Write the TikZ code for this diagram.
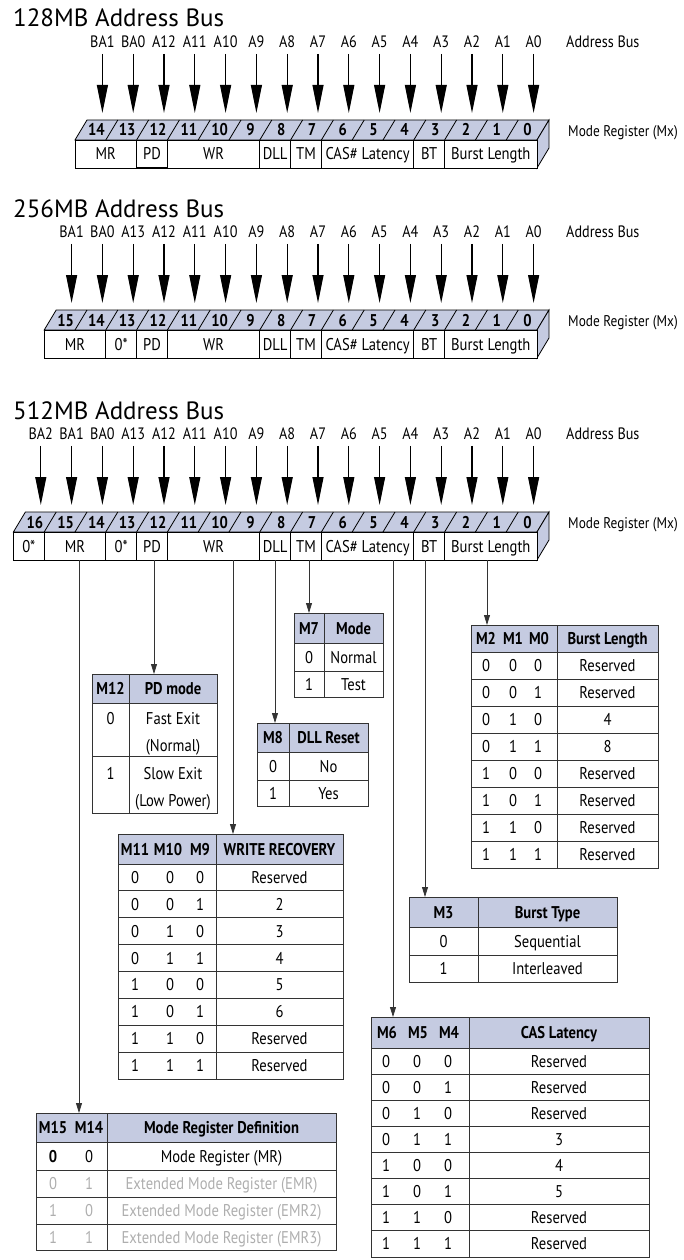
\documentclass[tikz,border=0pt]{standalone}
\usepackage{fontspec}
\setmainfont{PT Sans}[FakeStretch=0.86]
\newfontfamily\titlefont{PT Sans}
\usetikzlibrary{arrows.meta}
\definecolor{hdr}{HTML}{C5CBE1}
\definecolor{tln}{HTML}{333333}
\definecolor{gry}{HTML}{AEAEAE}
\newcommand\fsz[1]{\fontsize{#1}{#1}\selectfont}
\def\W{30.8}
\def\DX{12}
\def\DY{20}
\def\FH{28}
\def\RR{537}
\tikzset{
  ttl/.style={font=\titlefont\fsz{25}, inner sep=0pt, anchor=west, text height=18pt, text depth=0pt},
  lab/.style={font=\fsz{16.5}, inner sep=0pt, text height=11.5pt, text depth=0pt},
  mxlab/.style={font=\fsz{15.5}, inner sep=0pt, anchor=west, text height=11pt, text depth=0pt},
  bigarr/.style={line width=1.1pt, shorten <=6pt, -{Triangle[length=28pt,width=11pt]}},
  facefill/.style={fill=hdr, draw=black, line width=0.8pt},
  fld/.style={font=\fsz{17}, inner sep=0pt, text height=12pt, text depth=0pt},
  num/.style={font=\fsz{17}\bfseries, inner sep=0pt, text height=12pt, text depth=0pt},
  tline/.style={draw=tln, line width=0.9pt},
  tarr/.style={draw=tln, line width=0.8pt, -{Triangle[length=10pt,width=6pt]}},
  tt/.style={font=\fsz{17}, inner sep=0pt, text height=12pt, text depth=0pt},
  th/.style={font=\fsz{17}\bfseries, inner sep=0pt, text height=12pt, text depth=0pt},
  tg/.style={tt, text=gry},
}
\newcommand\regbar[4]{%
  \pgfmathsetmacro\BL{\RR-#2*\W}%
  \pgfmathsetmacro\YA{#1+\DY}%
  \pgfmathsetmacro\YB{#1+\DY+\FH}%
  \pgfmathsetmacro\XR{\RR+\DX}%
  \draw[facefill] (\BL,\YA) -- ({\BL+\DX},#1) -- (\XR,#1) -- (\RR,\YA) -- cycle;
  \draw[facefill] (\RR,\YA) -- (\XR,#1) -- (\XR,{#1+\FH}) -- (\RR,\YB) -- cycle;
  \draw[fill=white, line width=0.8pt] (\BL,\YA) rectangle (\RR,\YB);
  \pgfmathtruncatemacro\NM{#2-1}%
  \foreach \i in {1,...,\NM} \draw[line width=0.8pt] ({\BL+\i*\W},\YA) -- ({\BL+\i*\W+\DX},#1);
  \foreach \lb [count=\i from 0] in {#4} {
    \pgfmathtruncatemacro\kk{#2-1-\i}
    \pgfmathsetmacro\xc{\BL+(\i+0.5)*\W}
    \node[num] (#3n\i) at ({\xc+\DX/2},{#1+\DY/2}) {\kk};
    \node[lab] (#3a\i) at ({\xc+\DX},{#1-78}) {\lb};
    \coordinate (#3p\i) at ({\xc+\DX},{#1-7});
    \draw[bigarr] (#3a\i) -- (#3p\i);
  }
}
\begin{document}
\begin{tikzpicture}[x=1pt,y=-1pt]
\useasboundingbox (0,0) rectangle (683,1260);

% ---------- 128MB ----------
\node[ttl] (t1) at (13,18) {128MB Address Bus};
\regbar{120}{15}{a}{BA1,BA0,A12,A11,A10,A9,A8,A7,A6,A5,A4,A3,A2,A1,A0}
\node[lab, anchor=west] (ab1) at (566,42) {Address Bus};
\node[mxlab] (mx1) at (568,131) {Mode Register (Mx)};
\foreach \sa/\sb/\tx [count=\j] in {0/2/MR, 2/3/PD, 3/6/WR, 6/7/DLL, 7/8/TM, 8/11/{CAS\# Latency}, 11/12/BT, 12/15/{Burst Length}} {
  \draw[line width=0.8pt] ({\BL+\sa*\W},\YA) -- ({\BL+\sa*\W},\YB);
  \node[fld] (fa\j) at ({\BL+(\sa+\sb)/2*\W},{\YA+\FH/2}) {\tx};
}
\draw[line width=1.6pt] ({\BL+2*\W},\YA) -- ({\BL+2*\W},\YB) -- ({\BL+3*\W},\YB) -- ({\BL+3*\W},\YA);

% ---------- 256MB ----------
\node[ttl] (t2) at (13,208) {256MB Address Bus};
\regbar{310}{16}{b}{BA1,BA0,A13,A12,A11,A10,A9,A8,A7,A6,A5,A4,A3,A2,A1,A0}
\node[lab, anchor=west] (ab2) at (566,232) {Address Bus};
\node[mxlab] (mx2) at (568,321) {Mode Register (Mx)};
\foreach \sa/\sb/\tx [count=\j] in {0/2/MR, 2/3/0*, 3/4/PD, 4/7/WR, 7/8/DLL, 8/9/TM, 9/12/{CAS\# Latency}, 12/13/BT, 13/16/{Burst Length}} {
  \draw[line width=0.8pt] ({\BL+\sa*\W},\YA) -- ({\BL+\sa*\W},\YB);
  \node[fld] (fb\j) at ({\BL+(\sa+\sb)/2*\W},{\YA+\FH/2}) {\tx};
}

% ---------- 512MB ----------
\node[ttl] (t3) at (13,410) {512MB Address Bus};
\regbar{512}{17}{c}{BA2,BA1,BA0,A13,A12,A11,A10,A9,A8,A7,A6,A5,A4,A3,A2,A1,A0}
\node[lab, anchor=west] (ab3) at (566,434) {Address Bus};
\node[mxlab] (mx3) at (568,523) {Mode Register (Mx)};
\foreach \sa/\sb/\tx [count=\j] in {0/1/0*, 1/3/MR, 3/4/0*, 4/5/PD, 5/8/WR, 8/9/DLL, 9/10/TM, 10/13/{CAS\# Latency}, 13/14/BT, 14/17/{Burst Length}} {
  \draw[line width=0.8pt] ({\BL+\sa*\W},\YA) -- ({\BL+\sa*\W},\YB);
  \node[fld] (fc\j) at ({\BL+(\sa+\sb)/2*\W},{\YA+\FH/2}) {\tx};
}

% ---------- connector sources / targets ----------
\coordinate (sMR) at (79,560);  \coordinate (tMR) at (79,1113);
\coordinate (sPD) at (154,560); \coordinate (tPD) at (154,674);
\coordinate (sWR) at (233,560); \coordinate (tWR) at (233,834);
\coordinate (sDL) at (275,560); \coordinate (tDL) at (275,723);
\coordinate (sTM) at (309,560); \coordinate (tTM) at (309,613);
\coordinate (sCL) at (393,560); \coordinate (tCL) at (393,1017);
\coordinate (sBT) at (425,560); \coordinate (tBT) at (425,897);
\coordinate (sBL) at (487,560); \coordinate (tBL) at (487,625);

% ---------- M7 table ----------
\fill[hdr] (294,613) rectangle (383,643);
\draw[tline] (294,613) rectangle (383,697);
\draw[tline] (294,643) -- (383,643) (294,671) -- (383,671) (324,613) -- (324,697);
\node[th] (m7h1) at (309,628) {M7};
\node[th] (m7h2) at (353.5,628) {Mode};
\node[tt] (m7a) at (309,657) {0};
\node[tt] (m7b) at (353.5,657) {Normal};
\node[tt] (m7c) at (309,684) {1};
\node[tt] (m7d) at (353.5,684) {Test};

% ---------- M12 table ----------
\fill[hdr] (92,674) rectangle (217,703);
\draw[tline] (92,674) rectangle (217,813);
\draw[tline] (92,703) -- (217,703) (92,756) -- (217,756) (129,674) -- (129,813);
\node[th] (m12h1) at (110.5,688.5) {M12};
\node[th] (m12h2) at (173,688.5) {PD mode};
\node[tt] (m12a) at (110.5,718) {0};
\node[tt] (m12b) at (173,718) {Fast Exit};
\node[tt] (m12c) at (173,745) {(Normal)};
\node[tt] (m12d) at (110.5,773) {1};
\node[tt] (m12e) at (173,773) {Slow Exit};
\node[tt] (m12f) at (173,800) {(Low Power)};

% ---------- M8 table ----------
\fill[hdr] (257,723) rectangle (368,752);
\draw[tline] (257,723) rectangle (368,806);
\draw[tline] (257,752) -- (368,752) (257,780) -- (368,780) (289,723) -- (289,806);
\node[th] (m8h1) at (273,737.5) {M8};
\node[th] (m8h2) at (328.5,737.5) {DLL Reset};
\node[tt] (m8a) at (273,766) {0};
\node[tt] (m8b) at (328.5,766) {No};
\node[tt] (m8c) at (273,793) {1};
\node[tt] (m8d) at (328.5,793) {Yes};

% ---------- Burst Length table ----------
\fill[hdr] (471,625) rectangle (658,652);
\draw[tline] (471,625) rectangle (658,868);
\draw[tline] (557,625) -- (557,868);
\foreach \r in {0,...,7} \draw[tline] (471,{652+\r*27}) -- (658,{652+\r*27});
\node[th] (blh1) at (486,638.5) {M2};
\node[th] (blh2) at (513,638.5) {M1};
\node[th] (blh3) at (539,638.5) {M0};
\node[th] (blh4) at (607.5,638.5) {Burst Length};
\foreach \a/\b/\c/\v [count=\r] in {0/0/0/Reserved, 0/0/1/Reserved, 0/1/0/4, 0/1/1/8, 1/0/0/Reserved, 1/0/1/Reserved, 1/1/0/Reserved, 1/1/1/Reserved} {
  \pgfmathsetmacro\yy{652+(\r-0.5)*27}
  \node[tt] (bla\r) at (486,\yy) {\a};
  \node[tt] (blb\r) at (513,\yy) {\b};
  \node[tt] (blc\r) at (538,\yy) {\c};
  \node[tt] (blv\r) at (607.5,\yy) {\v};
}

% ---------- M3 table ----------
\fill[hdr] (409,897) rectangle (617,927);
\draw[tline] (409,897) rectangle (617,982);
\draw[tline] (409,927) -- (617,927) (409,955) -- (617,955) (478,897) -- (478,982);
\node[th] (m3h1) at (443.5,912) {M3};
\node[th] (m3h2) at (547.5,912) {Burst Type};
\node[tt] (m3a) at (443.5,941) {0};
\node[tt] (m3b) at (547.5,941) {Sequential};
\node[tt] (m3c) at (443.5,968.5) {1};
\node[tt] (m3d) at (547.5,968.5) {Interleaved};

% ---------- WR table ----------
\fill[hdr] (118,834) rectangle (343,864);
\draw[tline] (118,834) rectangle (343,1079);
\draw[tline] (216,834) -- (216,1079);
\foreach \r in {0,...,7} \draw[tline] (118,{864+\r*26.875}) -- (343,{864+\r*26.875});
\node[th] (wrh1) at (135,849) {M11};
\node[th] (wrh2) at (168,849) {M10};
\node[th] (wrh3) at (200,849) {M9};
\node[th] (wrh4) at (279.5,849) {WRITE RECOVERY};
\foreach \a/\b/\c/\v [count=\r] in {0/0/0/Reserved, 0/0/1/2, 0/1/0/3, 0/1/1/4, 1/0/0/5, 1/0/1/6, 1/1/0/Reserved, 1/1/1/Reserved} {
  \pgfmathsetmacro\yy{864+(\r-0.5)*26.875}
  \node[tt] (wra\r) at (135,\yy) {\a};
  \node[tt] (wrb\r) at (170,\yy) {\b};
  \node[tt] (wrc\r) at (200,\yy) {\c};
  \node[tt] (wrv\r) at (279.5,\yy) {\v};
}

% ---------- CAS table ----------
\fill[hdr] (371,1017) rectangle (649,1048);
\draw[tline] (371,1017) rectangle (649,1257);
\draw[tline] (469,1017) -- (469,1257);
\foreach \r in {0,...,7} \draw[tline] (371,{1048+\r*26.125}) -- (649,{1048+\r*26.125});
\node[th] (clh1) at (387,1032.5) {M6};
\node[th] (clh2) at (418,1032.5) {M5};
\node[th] (clh3) at (449,1032.5) {M4};
\node[th] (clh4) at (559,1032.5) {CAS Latency};
\foreach \a/\b/\c/\v [count=\r] in {0/0/0/Reserved, 0/0/1/Reserved, 0/1/0/Reserved, 0/1/1/3, 1/0/0/4, 1/0/1/5, 1/1/0/Reserved, 1/1/1/Reserved} {
  \pgfmathsetmacro\yy{1048+(\r-0.5)*26.125}
  \node[tt] (cla\r) at (386,\yy) {\a};
  \node[tt] (clb\r) at (417,\yy) {\b};
  \node[tt] (clc\r) at (448,\yy) {\c};
  \node[tt] (clv\r) at (559,\yy) {\v};
}

% ---------- M15/M14 table ----------
\fill[hdr] (36,1113) rectangle (336,1142);
\draw[tline] (36,1113) rectangle (336,1250);
\draw[tline] (36,1142) -- (336,1142) (36,1170) -- (336,1170) (36,1197) -- (336,1197) (36,1224) -- (336,1224) (107,1113) -- (107,1250);
\node[th] (mrh1) at (53,1127.5) {M15};
\node[th] (mrh2) at (89,1127.5) {M14};
\node[th] (mrh3) at (221.5,1127.5) {Mode Register Definition};
\node[th] (mra1) at (53,1156) {0};
\node[tt] (mrb1) at (89,1156) {0};
\node[tt] (mrv1) at (221.5,1156) {Mode Register (MR)};
\node[tg] (mra2) at (53,1183.5) {0};
\node[tg] (mrb2) at (89,1183.5) {1};
\node[tg] (mrv2) at (221.5,1183.5) {Extended Mode Register (EMR)};
\node[tg] (mra3) at (53,1210.5) {1};
\node[tg] (mrb3) at (89,1210.5) {0};
\node[tg] (mrv3) at (221.5,1210.5) {Extended Mode Register (EMR2)};
\node[tg] (mra4) at (53,1237) {1};
\node[tg] (mrb4) at (89,1237) {1};
\node[tg] (mrv4) at (221.5,1237) {Extended Mode Register (EMR3)};

% ---------- connectors ----------
\draw[tarr] (sMR) -- (tMR);
\draw[tarr] (sPD) -- (tPD);
\draw[tarr] (sWR) -- (tWR);
\draw[tarr] (sDL) -- (tDL);
\draw[tarr] (sTM) -- (tTM);
\draw[tarr] (sCL) -- (tCL);
\draw[tarr] (sBT) -- (tBT);
\draw[tarr] (sBL) -- (tBL);
\end{tikzpicture}
\end{document}
